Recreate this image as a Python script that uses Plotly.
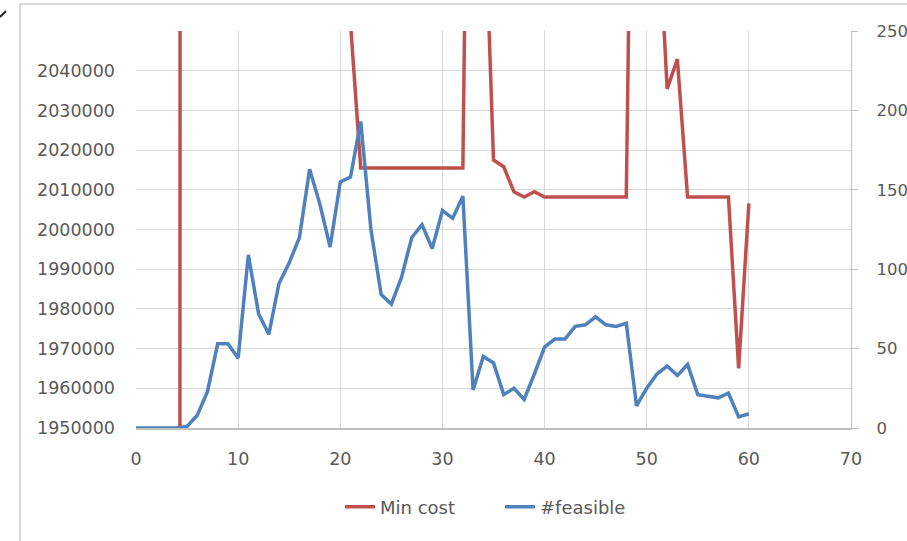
import plotly.graph_objects as go

# iteration index
steps = list(range(0, 61))

# lowest cost found so far (left axis); early values run far above the visible band
min_cost = [
    0, 0, 0, 0, 0,
    6500000, 5200000, 4300000, 3600000, 3400000,
    3300000, 2900000, 2800000, 2750000, 2600000,
    2500000, 2400000, 2300000, 2250000, 2200000,
    2150000, 2052000, 2015500, 2015500, 2015500,
    2015500, 2015500, 2015500, 2015500, 2015500,
    2015500, 2015500, 2015500, 2230000, 2093000,
    2017500, 2015800, 2009500, 2008200, 2009500,
    2008200, 2008200, 2008200, 2008200, 2008200,
    2008200, 2008200, 2008200, 2008200, 2200000,
    2150000, 2085000, 2035400, 2042900, 2008200,
    2008200, 2008200, 2008200, 2008200, 1965000,
    2006600,
]

# number of feasible candidates (right axis)
feasible = [
    0, 0, 0, 0, 0, 1, 8, 23, 53, 53,
    44, 109, 72, 59, 91, 104, 120, 163, 141, 114,
    155, 158, 193, 125, 84, 78, 95, 120, 128, 113,
    137, 132, 146, 24, 45, 41, 21, 25, 18, 34,
    51, 56, 56, 64, 65, 70, 65, 64, 66, 14,
    25, 34, 39, 33, 40, 21, 20, 19, 22, 7,
    9,
]

x_ticks = list(range(0, 71, 10))
cost_ticks = list(range(1950000, 2040001, 10000))
count_ticks = list(range(0, 251, 50))

RED = "#C0504D"
BLUE = "#4F81BD"
GRID = "#d9d9d9"
TEXT = "#595959"
FONT = "DejaVu Sans"
FSIZE = 17.5

fig = go.Figure()
fig.add_trace(go.Scatter(
    x=steps, y=min_cost, name="Min cost", mode="lines",
    line=dict(color=RED, width=3.5), yaxis="y",
))
fig.add_trace(go.Scatter(
    x=steps, y=feasible, name="#feasible", mode="lines",
    line=dict(color=BLUE, width=3.5), yaxis="y2",
))

W, H = 907, 541
ML, MR, MT, MB = 136, 56, 31, 113
pw, ph = W - ML - MR, H - MT - MB


def px_x(p):
    return (p - ML) / pw


def px_y(p):
    return (H - MB - p) / ph


fig.update_layout(
    width=W, height=H, autosize=False,
    margin=dict(l=ML, r=MR, t=MT, b=MB, pad=0, autoexpand=False),
    paper_bgcolor="white", plot_bgcolor="white",
    font=dict(family=FONT, size=FSIZE, color=TEXT),
    showlegend=True,
    legend=dict(
        orientation="h", x=px_x(500), xanchor="center",
        y=px_y(507), yanchor="middle",
        font=dict(family=FONT, size=18, color=TEXT),
        bgcolor="rgba(0,0,0,0)",
        entrywidth=115, entrywidthmode="pixels",
    ),
    xaxis=dict(
        range=[0, 70], tickvals=x_ticks, showgrid=True, gridcolor=GRID,
        gridwidth=1.2, zeroline=False, showline=True, linecolor="#bfbfbf",
        linewidth=1.5, ticks="", ticklabelstandoff=14, automargin=False,
    ),
    yaxis=dict(
        range=[1950000, 2050000], tickvals=cost_ticks, tickformat="d",
        showgrid=True, gridcolor=GRID, gridwidth=1.2, zeroline=False,
        showline=False, ticks="", ticklabelstandoff=20, automargin=False,
    ),
    yaxis2=dict(
        range=[0, 250], tickvals=count_ticks, overlaying="y", side="right",
        showgrid=False, zeroline=False, showline=True, linecolor="#bfbfbf",
        linewidth=1.2, ticks="outside", ticklen=6, tickcolor="#bfbfbf",
        ticklabelstandoff=15, automargin=False,
        tickfont=dict(family=FONT, size=16.5, color=TEXT),
    ),
    shapes=[
        # light frame around the chart area
        dict(type="rect", xref="paper", yref="paper",
             x0=px_x(20), x1=px_x(930), y0=px_y(560), y1=px_y(4),
             line=dict(color="#d9d9d9", width=2), fillcolor="rgba(0,0,0,0)",
             layer="below"),
        # small dark stroke in the corner
        dict(type="line", xref="paper", yref="paper",
             x0=px_x(0), y0=px_y(17), x1=px_x(6), y1=px_y(11),
             line=dict(color="#222222", width=2)),
    ],
)

fig.write_html("out.html")
